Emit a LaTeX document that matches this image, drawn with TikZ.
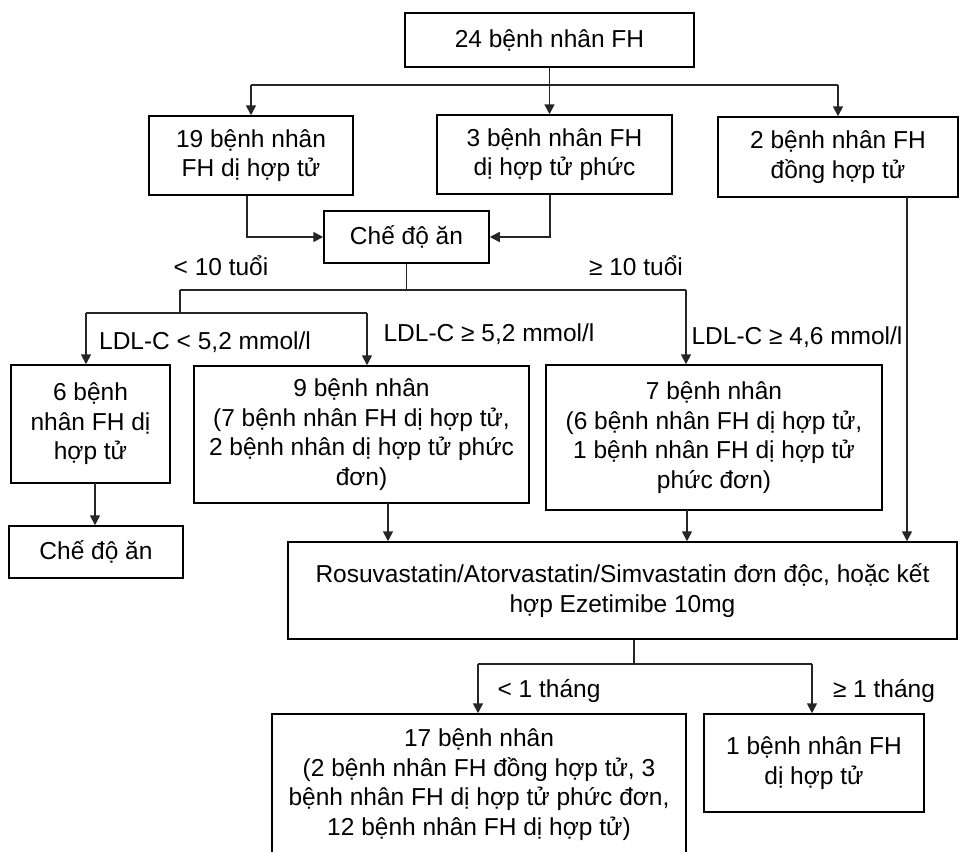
\documentclass[tikz,border=0pt]{standalone}
\usepackage{fontspec}
\setmainfont{Liberation Sans}
\usetikzlibrary{arrows.meta}
\tikzset{
  box/.style={draw=black, line width=1.5pt, inner sep=2pt, align=center,
    font=\fontsize{24.5}{29.5}\selectfont},
  lbl/.style={inner sep=0pt, font=\fontsize{24.5}{29.5}\selectfont},
  conn/.style={draw=black!85, line width=1.6pt},
  arr/.style={conn, -{Triangle[length=10pt,width=10pt]}},
}
\begin{document}
\begin{tikzpicture}[x=1pt,y=-1pt]
\useasboundingbox (0,0) rectangle (962,852);
% boxes
\node[box, minimum width=289, minimum height=54] (top) at (549.5,40) {24 bệnh nhân FH};
\node[box, minimum width=204, minimum height=79] (A) at (251,155.5) {19 bệnh nhân\\FH dị hợp tử};
\node[box, minimum width=235, minimum height=79] (B) at (554.5,154.5) {3 bệnh nhân FH\\dị hợp tử phức};
\node[box, minimum width=240, minimum height=80] (C) at (838,157) {2 bệnh nhân FH\\đồng hợp tử};
\node[box, minimum width=165, minimum height=52] (diet) at (406.5,237) {Chế độ ăn};
\node[box, minimum width=159, minimum height=118] (six) at (90.5,424) {6 bệnh\\nhân FH dị\\hợp tử};
\node[box, minimum width=335, minimum height=137] (nine) at (361.5,434.5) {9 bệnh nhân\\(7 bệnh nhân FH dị hợp tử,\\2 bệnh nhân dị hợp tử phức\\đơn)};
\node[box, minimum width=336, minimum height=145] (seven) at (714,437.5) {7 bệnh nhân\\(6 bệnh nhân FH dị hợp tử,\\1 bệnh nhân FH dị hợp tử\\phức đơn)};
\node[box, minimum width=174, minimum height=52] (diet2) at (96,552) {Chế độ ăn};
\node[box, minimum width=669, minimum height=97] (rosu) at (622.5,590.5) {Rosuvastatin/Atorvastatin/Simvastatin đơn độc, hoặc kết\\hợp Ezetimibe 10mg};
\node[box, minimum width=414, minimum height=141] (sev17) at (479,784.5) {17 bệnh nhân\\(2 bệnh nhân FH đồng hợp tử, 3\\bệnh nhân FH dị hợp tử phức đơn,\\12 bệnh nhân FH dị hợp tử)};
\node[box, minimum width=220, minimum height=98] (one) at (814,763) {1 bệnh nhân FH\\dị hợp tử};
% labels
\node[lbl] (l10a) at (221,266) {< 10 tuổi};
\node[lbl] (l10b) at (636,266) {≥ 10 tuổi};
\node[lbl] (ldl1) at (205,342) {LDL-C < 5,2 mmol/l};
\node[lbl] (ldl2) at (489,334) {LDL-C ≥ 5,2 mmol/l};
\node[lbl] (ldl3) at (797,337) {LDL-C ≥ 4,6 mmol/l};
\node[lbl] (m1) at (549,691) {< 1 tháng};
\node[lbl] (m2) at (884,691) {≥ 1 tháng};
% junction coordinates
\coordinate (t1) at (549.5,85);
\coordinate (d1) at (406.5,290);
\coordinate (dl) at (180,290);
\coordinate (dr) at (686,290);
\coordinate (dl2) at (180,313);
\coordinate (ll) at (86,313);
\coordinate (lr) at (367,313);
\coordinate (cr) at (907,197);
\coordinate (r1) at (634,664);
\coordinate (rl) at (478,664);
\coordinate (rr) at (812,664);
\coordinate (n1) at (388,503);
\coordinate (s1) at (687,510);
\coordinate (x1) at (95,483);
% connectors
\draw[conn] (top.south) -- (t1);
\draw[conn] (t1 -| A.north) -- (t1 -| C.north);
\draw[arr] (t1 -| A.north) -- (A.north);
\draw[arr] (t1) -- (t1 |- B.north);
\draw[arr] (t1 -| C.north) -- (C.north);
\draw[arr] (A.south -| 247,0) |- (diet.west);
\draw[arr] (B.south -| 550,0) |- (diet.east);
\draw[arr] (cr) -- (cr |- rosu.north);
\draw[conn] (diet.south) -- (d1);
\draw[conn] (dl) -- (dr);
\draw[conn] (dl) -- (dl2);
\draw[conn] (ll) -- (lr);
\draw[arr] (ll) -- (ll |- six.north);
\draw[arr] (lr) -- (lr |- nine.north);
\draw[arr] (dr) -- (dr |- seven.north);
\draw[arr] (x1) -- (x1 |- diet2.north);
\draw[arr] (n1) -- (n1 |- rosu.north);
\draw[arr] (s1) -- (s1 |- rosu.north);
\draw[conn] (r1 |- rosu.south) -- (r1);
\draw[conn] (rl) -- (rr);
\draw[arr] (rl) -- (rl |- sev17.north);
\draw[arr] (rr) -- (rr |- one.north);
\end{tikzpicture}
\end{document}
